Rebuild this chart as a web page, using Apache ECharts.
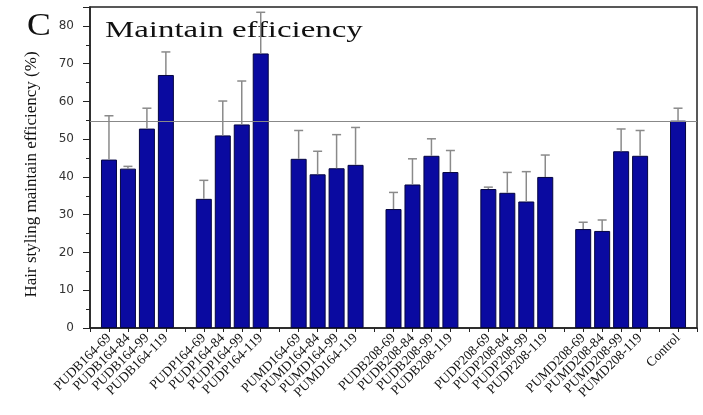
<!DOCTYPE html>
<html>
<head>
<meta charset="utf-8">
<script src="https://cdn.jsdelivr.net/npm/echarts@6/dist/echarts.min.js"></script>
<style>html,body{margin:0;padding:0;background:#fff;}#c{width:703px;height:415px;}</style>
</head>
<body>
<div id="c"></div>
<script>
// ---- data ----
const groups = ['PUDB164', 'PUDP164', 'PUMD164', 'PUDB208', 'PUDP208', 'PUMD208'];
const suffixes = ['69', '84', '99', '119'];
const groupValues = [
  [44.6, 42.2, 52.8, 67.0],
  [34.2, 51.0, 53.9, 72.7],
  [44.8, 40.7, 42.3, 43.2],
  [31.5, 38.0, 45.6, 41.3],
  [36.8, 35.8, 33.5, 40.0],
  [26.2, 25.7, 46.8, 45.6]
];
const groupErrors = [
  [11.6, 0.6, 5.4, 6.1],
  [4.9, 9.1, 11.5, 10.9],
  [7.5, 6.1, 8.9, 9.9],
  [4.4, 6.8, 4.5, 5.7],
  [0.5, 5.4, 7.9, 5.8],
  [1.8, 2.9, 5.9, 6.7]
];
const controlName = 'Control';
const controlValue = 54.9;
const controlError = 3.3;
const referenceLine = 54.8;
const yTicks = [0, 10, 20, 30, 40, 50, 60, 70, 80];

// ---- build categories (blank slots between groups) ----
const categories = [''];
const values = [null];
const errors = [null];
groups.forEach((g, gi) => {
  suffixes.forEach((s, si) => {
    categories.push(g + '-' + s);
    values.push(groupValues[gi][si]);
    errors.push(groupErrors[gi][si]);
  });
  categories.push('');
  values.push(null);
  errors.push(null);
});
categories.push(controlName);
values.push(controlValue);
errors.push(controlError);
categories.push('');
values.push(null);
errors.push(null);

const errData = [];
values.forEach((v, i) => {
  if (v !== null) errData.push([i, v, v + errors[i]]);
});

const chart = echarts.init(document.getElementById('c'));
chart.setOption({
  animation: false,
  grid: { left: 90, right: 6, top: 7, bottom: 87, show: true, borderColor: '#222', borderWidth: 1.5 },
  xAxis: {
    type: 'category',
    data: categories,
    boundaryGap: false,
    axisLine: { lineStyle: { color: '#222', width: 1.5 } },
    axisTick: { show: true, interval: 0, length: 4, lineStyle: { color: '#222' } },
    axisLabel: {
      interval: 0, rotate: 45, margin: 8,
      fontFamily: 'Liberation Serif', fontSize: 13.5, color: '#111'
    },
    splitLine: { show: false }
  },
  yAxis: {
    type: 'value',
    min: 0, max: 85, interval: 10,
    name: 'Hair styling maintain efficiency (%)',
    nameLocation: 'middle',
    nameGap: 50,
    nameTextStyle: { fontFamily: 'Liberation Serif', fontSize: 17, color: '#111', padding: [0, 14, 0, 0] },
    axisLine: { show: true, lineStyle: { color: '#222', width: 1.5 } },
    axisTick: { show: true, length: 7, lineStyle: { color: '#222' } },
    minorTick: { show: true, splitNumber: 2, length: 4, lineStyle: { color: '#222' } },
    axisLabel: {
      fontFamily: 'DejaVu Sans', fontSize: 12, color: '#333', margin: 16,
      formatter: v => (yTicks.indexOf(v) >= 0 ? String(v) : '')
    },
    splitLine: { show: false }
  },
  series: [
    {
      type: 'bar',
      data: values,
      barWidth: 16,
      itemStyle: { color: '#0a0aa0', borderColor: '#050540', borderWidth: 1 },
      markLine: {
        silent: true, symbol: 'none', label: { show: false },
        lineStyle: { color: '#888', width: 1.2, type: 'solid' },
        data: [{ yAxis: referenceLine }]
      },
      z: 2
    },
    {
      type: 'custom',
      data: errData,
      z: 3,
      renderItem: function (params, api) {
        const x = api.value(0);
        const p0 = api.coord([x, api.value(1)]);
        const p1 = api.coord([x, api.value(2)]);
        const hw = 4.5;
        const st = { stroke: '#8a8a8a', lineWidth: 1.5 };
        return {
          type: 'group',
          children: [
            { type: 'line', shape: { x1: p0[0], y1: p0[1], x2: p1[0], y2: p1[1] }, style: st },
            { type: 'line', shape: { x1: p1[0] - hw, y1: p1[1], x2: p1[0] + hw, y2: p1[1] }, style: st }
          ]
        };
      }
    }
  ],
  graphic: [
    {
      type: 'text', x: 27, y: 11,
      style: { text: 'C', font: '31px "Liberation Serif"', fill: '#111' },
      scaleX: 1.15
    },
    {
      type: 'text', x: 105, y: 19,
      style: { text: 'Maintain efficiency', font: '24px "Liberation Serif"', fill: '#111' },
      scaleX: 1.37
    }
  ]
});
</script>
</body>
</html>
